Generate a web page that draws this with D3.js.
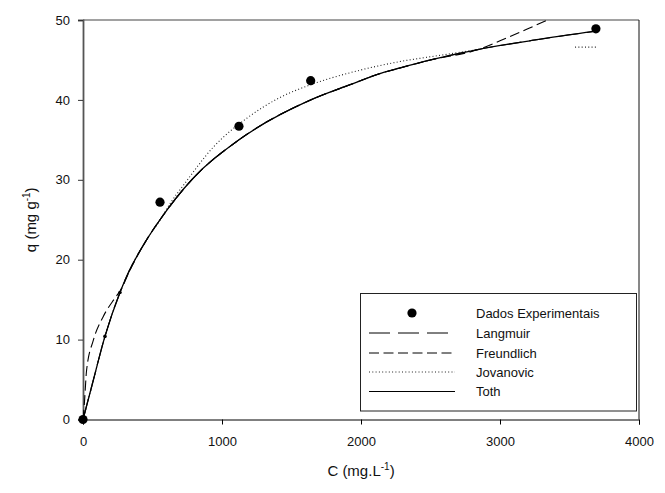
<!DOCTYPE html>
<html>
<head>
<meta charset="utf-8">
<script src="https://cdn.jsdelivr.net/npm/d3@7"></script>
<style>
  html, body { margin: 0; padding: 0; background: #fff; }
  svg { display: block; font-family: "Liberation Sans", Arial, sans-serif; }
</style>
</head>
<body>
<svg id="chart" width="665" height="493"></svg>
<script>
// Experimental adsorption data: C (mg/L), q (mg/g)
const expC = [0, 158, 266, 554, 1122, 1638, 3690];
const expQ = [0, 10.4, 15.9, 27.2, 36.7, 42.4, 48.9];

// Fitted isotherm curves, sampled as [C, q]
const langmuirPts = [[0,0],[62,4.1],[158,10.4],[266,15.9],[314,17.9],[458,22.5],[554,25.0],[782,30.0],[1122,35.0],[1638,40.0],[1921,41.9],[2137,43.3],[2281,44.0],[2500,45.0],[2842,46.3],[3252,47.5],[3690,48.6]];
const freundlichPts = [[0,0],[9,1.8],[26,6.2],[74,9.9],[146,12.9],[230,15.2],[278,16.4],[330,18.4],[458,22.5],[554,25.0],[782,30.0],[1122,35.0],[1638,40.0],[1921,41.9],[2137,43.3],[2281,44.0],[2500,45.0],[2842,46.3],[3000,47.4],[3200,48.9],[3345,50.0],[3500,51.0]];
const jovanovicPts = [[0,0],[62,4.1],[158,10.4],[266,15.9],[314,17.9],[458,22.5],[560,25.1],[633,27.2],[722,29.3],[938,34.1],[1178,37.7],[1417,40.3],[1638,41.9],[1921,43.4],[2137,44.3],[2281,44.8],[2616,45.7],[2842,46.3],[null,null],[3540,46.6],[3690,46.6]];
const tothPts = [[0,0],[62,4.1],[158,10.4],[266,15.9],[314,17.9],[458,22.5],[554,25.0],[782,30.0],[1122,35.0],[1638,40.0],[1921,41.9],[2137,43.3],[2281,44.0],[2500,45.0],[2842,46.3],[3252,47.5],[3690,48.6]];

const xTicks = [0, 1000, 2000, 3000, 4000];
const yTicks = [0, 10, 20, 30, 40, 50];
const legendLabels = ["Dados Experimentais", "Langmuir", "Freundlich", "Jovanovic", "Toth"];

const svg = d3.select("#chart");
const plotL = 83, plotR = 639, plotT = 20, plotB = 419.5;

const x = d3.scaleLinear().domain([0, 4000]).range([plotL, plotR]);
const y = d3.scaleLinear().domain([0, 50]).range([plotB, plotT]);

// clip region for curves
svg.append("defs").append("clipPath").attr("id", "plotClip")
  .append("rect").attr("x", plotL).attr("y", plotT)
  .attr("width", plotR - plotL).attr("height", plotB - plotT);

// frame: top and right
svg.append("line").attr("x1", plotL).attr("x2", plotR).attr("y1", plotT).attr("y2", plotT)
  .attr("stroke", "#444").attr("stroke-width", 1.2);
svg.append("line").attr("x1", plotR).attr("x2", plotR).attr("y1", plotT).attr("y2", plotB)
  .attr("stroke", "#111").attr("stroke-width", 1);

// axes
const xAxis = svg.append("g").attr("transform", `translate(0,${plotB})`)
  .call(d3.axisBottom(x).tickValues(xTicks).tickFormat(d3.format("d")).tickSize(5).tickPadding(12));
xAxis.select(".domain").attr("stroke", "#000").attr("stroke-width", 1);
xAxis.selectAll(".tick line").attr("stroke", "#000");
xAxis.selectAll("text").attr("font-size", 13).attr("fill", "#111")
  .attr("font-family", "Liberation Sans, Arial, sans-serif");

const yAxis = svg.append("g").attr("transform", `translate(${plotL},0)`)
  .call(d3.axisLeft(y).tickValues(yTicks).tickFormat(d3.format("d")).tickSize(5).tickPadding(8));
yAxis.select(".domain").attr("stroke", "#555").attr("stroke-width", 1.8);
yAxis.selectAll(".tick line").attr("stroke", "#333");
yAxis.selectAll("text").attr("font-size", 13).attr("fill", "#111")
  .attr("font-family", "Liberation Sans, Arial, sans-serif");

// axis titles
const xt = svg.append("text").attr("x", (plotL + plotR) / 2).attr("y", 476)
  .attr("text-anchor", "middle").attr("font-size", 15).attr("fill", "#111");
xt.append("tspan").text("C (mg.L");
xt.append("tspan").attr("font-size", 10).attr("dy", -6).text("-1");
xt.append("tspan").attr("dy", 6).text(")");

const yt = svg.append("text").attr("transform", `translate(36,${(plotT + plotB) / 2}) rotate(-90)`)
  .attr("text-anchor", "middle").attr("font-size", 15).attr("fill", "#111");
yt.append("tspan").text("q (mg g");
yt.append("tspan").attr("font-size", 10).attr("dy", -6).text("-1");
yt.append("tspan").attr("dy", 6).text(")");

// curves
const line = d3.line()
  .defined(d => d[0] !== null)
  .x(d => x(d[0])).y(d => y(d[1]))
  .curve(d3.curveMonotoneX);

const curves = svg.append("g").attr("clip-path", "url(#plotClip)");
const styles = [
  { pts: langmuirPts, dash: "21,8", w: 1.1, color: "#000" },
  { pts: freundlichPts, dash: "10,4.5", w: 1.1, color: "#000" },
  { pts: jovanovicPts, dash: "1,2.3", w: 1.1, color: "#222" },
  { pts: tothPts, dash: null, w: 1.3, color: "#000" }
];
styles.forEach(s => {
  curves.append("path").datum(s.pts).attr("d", line)
    .attr("fill", "none").attr("stroke", s.color).attr("stroke-width", s.w)
    .attr("stroke-dasharray", s.dash);
});

// experimental points (two low-concentration points are drawn with a small marker)
const smallMarker = new Set([1, 2]);
svg.append("g").selectAll("circle").data(expC).join("circle")
  .attr("cx", d => x(d)).attr("cy", (d, i) => y(expQ[i]))
  .attr("r", (d, i) => smallMarker.has(i) ? 1.8 : 4.6)
  .attr("fill", "#000");

// legend
const lg = svg.append("g");
lg.append("rect").attr("x", 360.5).attr("y", 293.5).attr("width", 276).attr("height", 117.5)
  .attr("fill", "#fff").attr("stroke", "#222").attr("stroke-width", 1);
const rowY = [313, 333, 353, 372, 391.5];
legendLabels.forEach((lab, i) => {
  lg.append("text").attr("x", 476).attr("y", rowY[i]).attr("dy", "0.35em")
    .attr("font-size", 13).attr("fill", "#111").text(lab);
  if (i === 0) {
    lg.append("circle").attr("cx", 412).attr("cy", rowY[i]).attr("r", 4.6).attr("fill", "#000");
  } else {
    const s = styles[i - 1];
    lg.append("line").attr("x1", 369).attr("x2", 455).attr("y1", rowY[i]).attr("y2", rowY[i])
      .attr("stroke", s.color).attr("stroke-width", 1).attr("stroke-dasharray", s.dash);
  }
});
</script>
</body>
</html>
